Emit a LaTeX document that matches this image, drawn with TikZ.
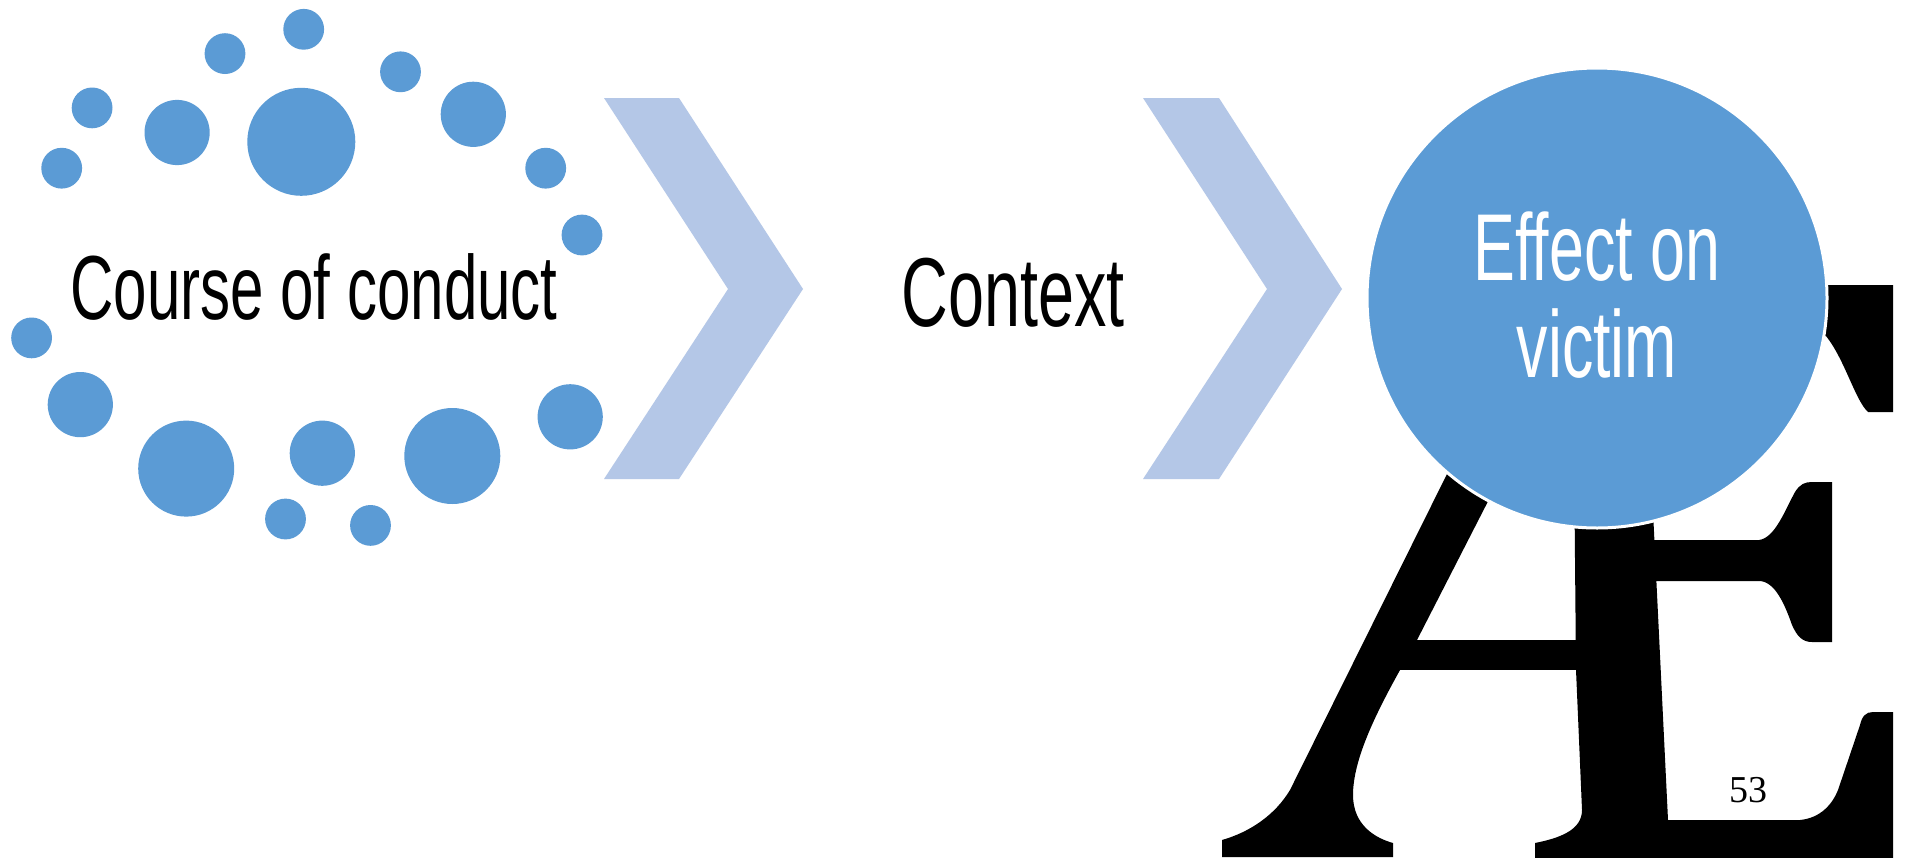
\documentclass[tikz,border=0pt]{standalone}
\usepackage{fontspec}
\newfontfamily\agency[FakeStretch=0.66]{Liberation Sans}
\newfontfamily\pgnum{Liberation Serif}
\definecolor{dotblue}{HTML}{5B9BD5}
\definecolor{chevblue}{HTML}{B4C7E7}
\begin{document}
\begin{tikzpicture}[x=1pt,y=-1pt,
  dot/.style={circle,fill=dotblue,inner sep=0pt},
  sdot/.style={dot,minimum size=40.8pt},
  mdot/.style={dot,minimum size=65.2pt},
  ldot/.style={dot,minimum size=96pt},
  xdot/.style={dot,minimum size=108pt},
  chev/.style={fill=chevblue},
  glyph/.style={fill=black},
  lbl/.style={anchor=base,inner sep=0pt,text=black},
  bigc/.style={circle,fill=dotblue,draw=white,line width=3pt,minimum size=460pt,inner sep=0pt}]
\useasboundingbox (0,0) rectangle (1905,857);
\fill[white] (0,0) rectangle (1905,857);

% dots ring
\node[sdot] (d1) at (303.7,29.3) {};
\node[sdot] (d2) at (225,53.6) {};
\node[sdot] (d3) at (400.5,71.8) {};
\node[sdot] (d4) at (92.1,107.9) {};
\node[mdot] (d5) at (177.1,132.5) {};
\node[xdot] (d6) at (301.3,141.8) {};
\node[mdot] (d7) at (473.3,114.3) {};
\node[sdot] (d8) at (61.7,168.2) {};
\node[sdot] (d9) at (545.7,168.2) {};
\node[sdot] (d10) at (582,235) {};
\node[sdot] (d11) at (31.6,337.9) {};
\node[mdot] (d12) at (80.3,404.6) {};
\node[mdot] (d13) at (570.2,416.8) {};
\node[ldot] (d14) at (186.2,468.6) {};
\node[mdot] (d15) at (322.3,453.2) {};
\node[ldot] (d16) at (452.3,456) {};
\node[sdot] (d17) at (285.5,519) {};
\node[sdot] (d18) at (370.5,525.4) {};

% chevrons
\fill[chev] (604,98) -- (679,98) -- (803,289) -- (679,479) -- (604,479) -- (728,289) -- cycle;
\fill[chev] (1143,98) -- (1219,98) -- (1342,289) -- (1219,479) -- (1143,479) -- (1267,289) -- cycle;

% background AE glyph
\begin{scope}
\clip (0,0) rectangle (1893,857);
% A left stroke
\fill[glyph] (1491,390) -- (1447,474) -- (1290,790)
  .. controls (1275,815) and (1250,832) .. (1222,840) -- (1222,857) -- (1393,857) -- (1393,843)
  .. controls (1375,838) and (1353,825) .. (1353,795)
  .. controls (1353,760) and (1375,715) .. (1400,670) -- (1417,640) -- (1545,390) -- cycle;
% crossbar
\fill[glyph] (1400,640) rectangle (1580,670);
% E stem, bottom arm
\fill[glyph] (1574,450) -- (1650,450) -- (1668,820) -- (1800,820)
  .. controls (1820,818) and (1832,805) .. (1838,790) -- (1860,725)
  .. controls (1862,716) and (1866,712) .. (1873,712) -- (1900,712) -- (1900,860) -- (1535,860) -- (1535,843)
  .. controls (1560,838) and (1582,830) .. (1582,810) -- (1576,670) -- cycle;
% E middle arm
\fill[glyph] (1640,540) -- (1759,540) .. controls (1775,538) and (1785,510) .. (1795,492)
  .. controls (1800,484) and (1805,482) .. (1812,482) -- (1832,482) -- (1832,642) -- (1812,642)
  .. controls (1802,642) and (1797,636) .. (1792,625) .. controls (1785,605) and (1775,581) .. (1759,581)
  -- (1640,581) -- cycle;
% E top arm
\fill[glyph] (1640,285) -- (1900,285) -- (1900,412) -- (1868,412)
  .. controls (1855,400) and (1845,360) .. (1826,336) -- (1640,336) -- cycle;
\end{scope}

% big circle
\node[bigc] (eff) at (1597,298) {};

% texts
\node[lbl,font=\agency\fontsize{91pt}{91pt}\selectfont] (course) at (314,319) {Course of conduct};
\node[lbl,font=\agency\fontsize{98pt}{98pt}\selectfont] (context) at (1013,326) {Context};
\node[lbl,text=white,font=\agency\fontsize{95pt}{95pt}\selectfont] (efft1) at (1597,280) {Effect on};
\node[lbl,text=white,font=\agency\fontsize{95pt}{95pt}\selectfont] (efft2) at (1597,377) {victim};
\node[lbl,font=\pgnum\fontsize{38pt}{38pt}\selectfont] (pg) at (1748,802) {53};
\end{tikzpicture}
\end{document}
